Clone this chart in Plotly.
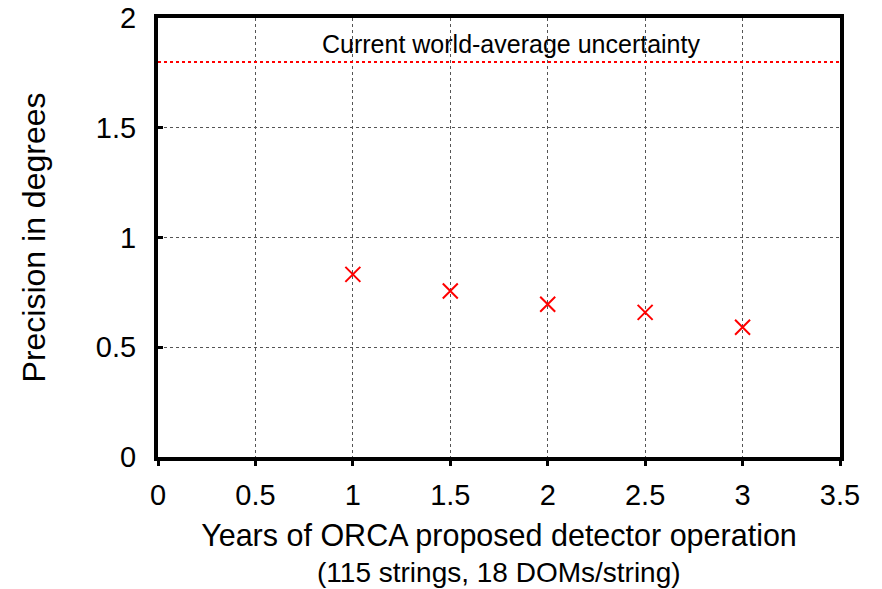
import plotly.graph_objects as go

# Projected precision vs. years of detector operation
years = [1.0, 1.5, 2.0, 2.5, 3.0]
precision_deg = [0.832, 0.756, 0.696, 0.659, 0.591]

# Current world-average uncertainty reference
world_avg = 1.8
ref_x = [0.0, 3.5]

x_ticks = [0, 0.5, 1, 1.5, 2, 2.5, 3, 3.5]
x_tick_text = ["0", "0.5", "1", "1.5", "2", "2.5", "3", "3.5"]
y_ticks = [0, 0.5, 1, 1.5, 2]
y_tick_text = ["0", "0.5", "1", "1.5", "2"]

FONT = "Liberation Sans, Arial, Helvetica, sans-serif"

fig = go.Figure()

fig.add_trace(go.Scatter(
    x=ref_x, y=[world_avg, world_avg], mode="lines",
    line=dict(color="#ff0000", width=2, dash="dot"),
    hoverinfo="skip", showlegend=False,
))

fig.add_trace(go.Scatter(
    x=years, y=precision_deg, mode="markers",
    marker=dict(symbol="x-thin-open", size=15, color="#ff0000",
                line=dict(color="#ff0000", width=2)),
    showlegend=False,
))

fig.add_annotation(
    x=1.81, y=1.88, xref="x", yref="y", text="Current world-average uncertainty",
    showarrow=False, font=dict(family=FONT, size=25, color="black"),
)

# Second line of the x-axis title, set tighter than the default line spacing
fig.add_annotation(
    x=0.5, y=-0.262, xref="paper", yref="paper", yanchor="middle",
    text="(115 strings, 18 DOMs/string)",
    showarrow=False, font=dict(family=FONT, size=28, color="black"),
)

fig.update_layout(
    width=882, height=589,
    margin=dict(l=158, r=42, t=18, b=132),
    paper_bgcolor="white", plot_bgcolor="white",
    font=dict(family=FONT, color="black"),
)

fig.update_xaxes(
    range=[0, 3.5], tickvals=x_ticks, ticktext=x_tick_text,
    tickfont=dict(size=29), ticks="outside", ticklen=5, tickwidth=3, tickcolor="black",
    showline=True, linewidth=4, linecolor="black", mirror=True,
    showgrid=True, gridcolor="#555555", gridwidth=1, griddash="dot",
    zeroline=False, automargin=False, ticklabelstandoff=4,
    title=dict(text="Years of ORCA proposed detector operation",
               font=dict(size=30.5), standoff=16),
)

fig.update_yaxes(
    range=[0, 2], tickvals=y_ticks, ticktext=y_tick_text,
    tickfont=dict(size=29), ticks="inside", ticklen=5, tickwidth=3, tickcolor="black",
    showline=True, linewidth=4, linecolor="black", mirror=True,
    showgrid=True, gridcolor="#555555", gridwidth=1, griddash="dot",
    zeroline=False, automargin=False, ticklabelstandoff=12,
    title=dict(text="Precision in degrees", font=dict(size=32), standoff=42),
)

fig.write_html("out.html")
